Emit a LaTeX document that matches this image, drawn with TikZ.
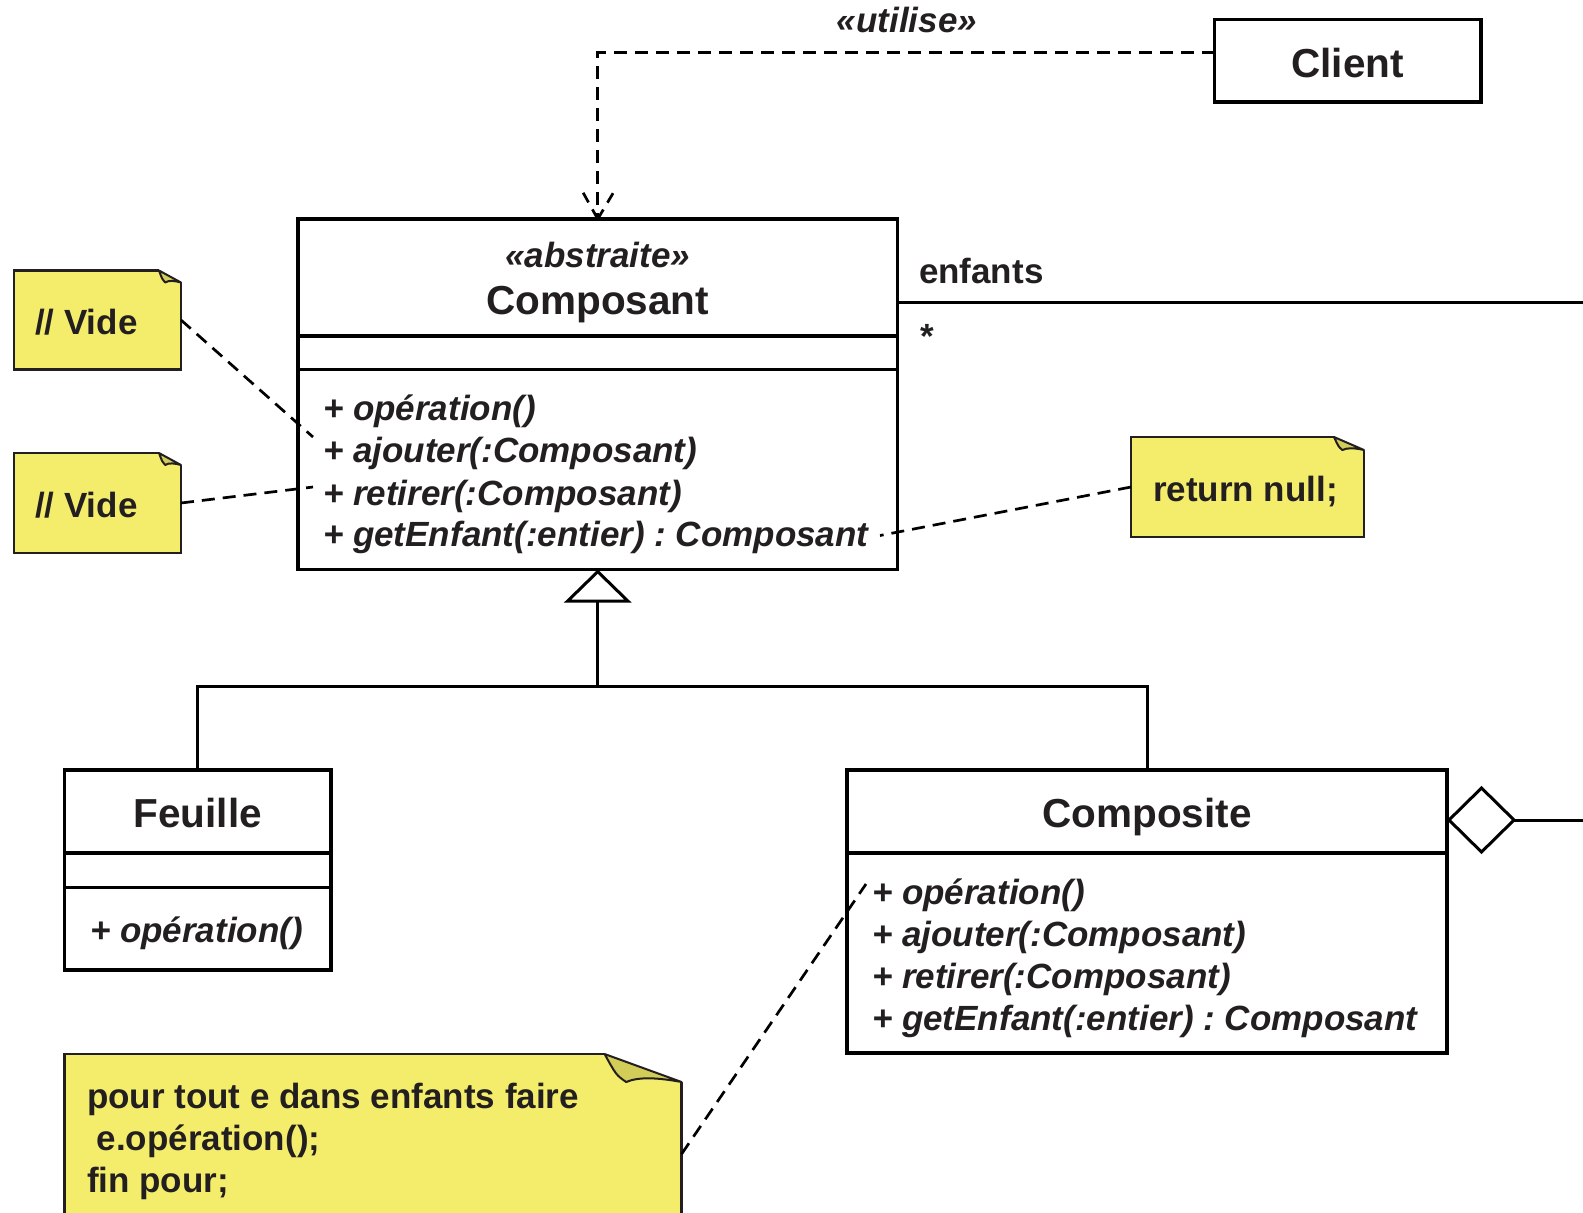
\documentclass[tikz,border=0pt]{standalone}
\usepackage{fontspec}
\setmainfont{Liberation Sans}
\usetikzlibrary{calc,arrows.meta,shapes.geometric}
\frenchspacing

\definecolor{ink}{HTML}{231F20}
\definecolor{notefill}{HTML}{F4ED6C}
\definecolor{foldfill}{HTML}{D2CC58}

% dog-eared corner of a note node: #1 node, #2 fold width, #3 fold height
\newcommand\notecorner[3]{%
  \fill[white] ($(#1.north east)+(-#2,0)$) -- ($(#1.north east)+(-#2,-5)$)
     -- ($(#1.north east)+(5,-5)$) -- ($(#1.north east)+(5,#3)$)
     -- ($(#1.north east)+(0,#3)$) -- cycle;
  \filldraw[fill=foldfill, draw=ink, line width=2pt, line join=round]
     ($(#1.north east)+(-#2,0)$) -- ($(#1.north east)+(0,#3)$)
     .. controls ($(#1.north east)+(-0.3*#2,0.85*#3)$) and ($(#1.north east)+(-0.55*#2,0.8*#3)$)
     .. ($(#1.north east)+(-0.72*#2,#3)$)
     .. controls ($(#1.north east)+(-0.85*#2,0.75*#3)$) .. ($(#1.north east)+(-#2,0)$) -- cycle;
}

\begin{document}
\begin{tikzpicture}[x=1pt,y=-1pt,
  box/.style={draw=black, line width=3.2pt, fill=white, rectangle, inner sep=0pt, outer sep=0pt},
  rule/.style={line width=3.2pt},
  conn/.style={draw=black, line width=3pt},
  dep/.style={draw=black, line width=2.7pt, dash pattern=on 13pt off 8pt},
  notebox/.style={rectangle, fill=notefill, draw=ink, line width=2.5pt, inner sep=0pt, outer sep=0pt},
  txt/.style={text=ink, inner sep=0pt, outer sep=0pt, text height=25pt, text depth=0pt,
    font=\fontsize{35}{42}\selectfont\bfseries},
  itxt/.style={txt, font=\fontsize{35}{42}\selectfont\bfseries\itshape},
  ttl/.style={txt, text height=29pt, font=\fontsize{40.5}{48}\selectfont\bfseries},
  lft/.style={anchor=west},
]
\useasboundingbox (0,0) rectangle (1583,1213);
\clip (0,0) rectangle (1583,1213);

% ---------- Client ----------
\node[box, anchor=north west, minimum width=266.5pt, minimum height=82.8pt] (client) at (1214.5,19.2) {};
\node[ttl] (clientname) at (1347.5,62.6) {Client};

% ---------- Composant ----------
\node[box, anchor=north west, minimum width=599.5pt, minimum height=350.5pt] (comp) at (298,219) {};
\draw[rule] ($(comp.north west)+(0,117)$) -- ($(comp.north east)+(0,117)$);
\draw[rule] ($(comp.north west)+(0,150.5)$) -- ($(comp.north east)+(0,150.5)$);
\node[itxt] (compst) at (597.7,255) {«abstraite»};
\node[ttl] (compname) at (597.7,300) {Composant};
\node[itxt,lft] (cop) at (323,408) {+ opération()};
\node[itxt,lft] (caj) at (323,450) {+ ajouter(:Composant)};
\node[itxt,lft] (cre) at (323,492.5) {+ retirer(:Composant)};
\node[itxt,lft] (cge) at (323,534) {+ getEnfant(:entier) : Composant};

% ---------- Feuille ----------
\node[box, anchor=north west, minimum width=266.4pt, minimum height=200pt] (feuille) at (64.6,770) {};
\draw[rule] ($(feuille.north west)+(0,83)$) -- ($(feuille.north east)+(0,83)$);
\draw[rule] ($(feuille.north west)+(0,117.5)$) -- ($(feuille.north east)+(0,117.5)$);
\node[ttl] (feuillename) at (197.8,813) {Feuille};
\node[itxt,lft] (fop) at (90,930) {+ opération()};

% ---------- Composite ----------
\node[box, anchor=north west, minimum width=600pt, minimum height=283pt] (composite) at (847,770) {};
\draw[rule] ($(composite.north west)+(0,83)$) -- ($(composite.north east)+(0,83)$);
\node[ttl] (compositename) at (1147,813) {Composite};
\node[itxt,lft] (kop) at (872,891.5) {+ opération()};
\node[itxt,lft] (kaj) at (872,934) {+ ajouter(:Composant)};
\node[itxt,lft] (kre) at (872,975.5) {+ retirer(:Composant)};
\node[itxt,lft] (kge) at (872,1018) {+ getEnfant(:entier) : Composant};

% ---------- notes ----------
\node[notebox, anchor=north west, minimum width=167pt, minimum height=99pt] (vide1) at (14,270.5) {};
\notecorner{vide1}{22}{12}
\node[txt,lft] (vide1txt) at (35,322) {// Vide};

\node[notebox, anchor=north west, minimum width=167pt, minimum height=100pt] (vide2) at (14,453) {};
\notecorner{vide2}{22}{12}
\node[txt,lft] (vide2txt) at (35,505) {// Vide};

\node[notebox, anchor=north west, minimum width=233pt, minimum height=100pt] (rnull) at (1131,437) {};
\notecorner{rnull}{30}{13}
\node[txt,lft] (rnulltxt) at (1153,489) {return null;};

\node[notebox, anchor=north west, minimum width=617pt, minimum height=200pt] (loop) at (64.6,1054) {};
\notecorner{loop}{77}{28}
\node[txt,lft] (loop1) at (87,1095.5) {pour tout e dans enfants faire};
\node[txt,lft] (loop2) at (87,1138) {\ e.opération();};
\node[txt,lft] (loop3) at (87,1179.5) {fin pour;};

% ---------- note links ----------
\coordinate (ajT) at (313,437);
\coordinate (reT) at (313,487);
\coordinate (geT) at (880,535.5);
\coordinate (opT) at (866,884);
\draw[dep] (vide1.east) -- (ajT);
\draw[dep] (vide2.east) -- (reT);
\draw[dep] (rnull.west) -- (geT);
\draw[dep] (loop.east) -- (opT);

% ---------- dependency Client -> Composant ----------
\coordinate (ubend) at (597.75,52.5);
\draw[dep] (client.west |- ubend) -- (ubend) -- (comp.north);
\draw[dep, dash pattern=on 11pt off 8pt] (comp.north) -- ++(-15,-27);
\draw[dep, dash pattern=on 11pt off 8pt] (comp.north) -- ++(16,-27);
\node[itxt] (utilise) at (907,20) {«utilise»};

% ---------- association enfants ----------
\coordinate (aR) at (1583,302);
\draw[conn] ($(comp.north east)+(0,83)$) -- (aR);
\node[txt,lft] (enf) at (919,270.5) {enfants};
\node[txt,lft] (mult) at (920,335.5) {*};

% ---------- generalisation ----------
\coordinate (gbar) at (597.75,686.5);
\draw[conn] (feuille.north) |- (gbar) -| (composite.north);
\draw[conn, -{Triangle[open, length=33pt, width=67pt]}] (gbar) -- (comp.south);

% ---------- aggregation ----------
\node[draw=black, line width=3pt, fill=white, diamond, inner sep=0pt, outer sep=0pt,
      minimum width=65pt, minimum height=64pt, anchor=west] (agg) at ($(composite.north east)+(2,50)$) {};
\coordinate (gR) at (1583,820);
\draw[conn] (agg.east) -- (gR);
\end{tikzpicture}
\end{document}
